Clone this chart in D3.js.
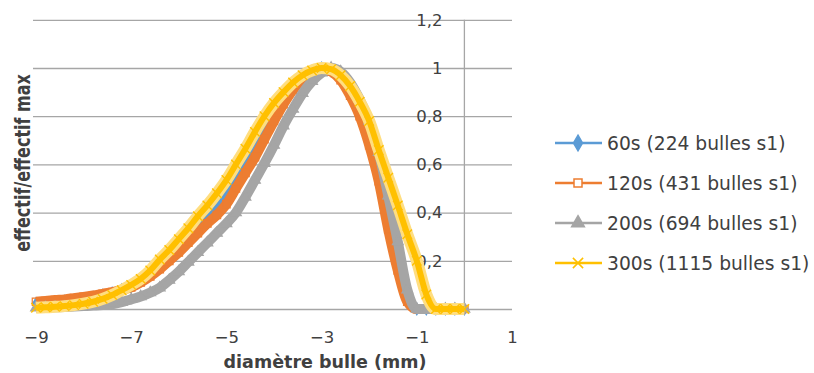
<!DOCTYPE html>
<html>
<head>
<meta charset="utf-8">
<script src="https://cdn.jsdelivr.net/npm/d3@7"></script>
<style>
  body { margin: 0; background: #fff; }
  text { font-family: "DejaVu Sans", sans-serif; fill: #404040; }
</style>
</head>
<body>
<div id="chart"></div>
<script>
// x = diametre (log), one shared set of points for all series
const xs = [-9, -8.8, -8.6, -8.4, -8.2, -8, -7.8, -7.6, -7.4, -7.2, -7, -6.8, -6.6, -6.4, -6.2, -6,
  -5.8, -5.6, -5.4, -5.2, -5, -4.8, -4.6, -4.4, -4.2, -4, -3.8, -3.6, -3.4, -3.2, -3,
  -2.8, -2.6, -2.4, -2.2, -2, -1.8, -1.6, -1.4, -1.2, -1, -0.8, -0.6, -0.4, -0.2, 0];

const s60 = [.022, .025, .029, .032, .036, .042, .048, .057, .066, .079, .093, .115, .143, .177, .214, .252,
  .293, .336, .378, .417, .465, .530, .595, .662, .730, .810, .865, .919, .960, .987, 1.0,
  .988, .956, .897, .818, .690, .550, .350, .180, .050, 0, 0, 0, 0, 0, 0];
const s120 = [.030, .033, .037, .040, .045, .050, .056, .063, .070, .080, .090, .110, .135, .165, .200, .235,
  .275, .315, .355, .390, .435, .500, .565, .630, .705, .780, .850, .910, .955, .985, 1.0,
  .985, .950, .885, .800, .680, .530, .330, .160, .030, 0, 0, 0, 0, 0, 0];
const s200 = [.005, .006, .007, .008, .010, .012, .014, .017, .020, .028, .040, .052, .068, .088, .120, .155,
  .195, .235, .275, .315, .355, .400, .465, .535, .605, .680, .760, .830, .895, .945, .980,
  1.0, .985, .940, .870, .780, .650, .470, .280, .080, 0, 0, 0, 0, 0, 0];
const s300 = [.005, .007, .009, .012, .016, .022, .030, .042, .058, .078, .100, .125, .160, .205, .245, .290,
  .335, .385, .430, .480, .535, .600, .665, .735, .800, .855, .900, .940, .970, .990, 1.0,
  .995, .970, .925, .860, .780, .660, .545, .430, .310, .200, .060, 0, 0, 0, 0];

const seriesNames = ["60s (224 bulles s1)", "120s (431 bulles s1)", "200s (694 bulles s1)", "300s (1115 bulles s1)"];
const seriesValues = [s60, s120, s200, s300];

const xTicks = [-9, -7, -5, -3, -1, 1];
const yTicks = [0, 0.2, 0.4, 0.6, 0.8, 1, 1.2];
const yTickLabels = ["0", "0,2", "0,4", "0,6", "0,8", "1", "1,2"];

const W = 814, H = 373;
const colors = ["#5B9BD5", "#ED7D31", "#A5A5A5", "#FFC000"];
const gridColor = "#a6a6a6";

const svg = d3.select("#chart").append("svg")
  .attr("width", W)
  .attr("height", H);

const x = d3.scaleLinear().domain([-9, 1]).range([36, 512]);
const y = d3.scaleLinear().domain([0, 1.2]).range([309, 19.8]);

// gridlines
svg.append("g")
  .attr("transform", `translate(${x(1)},0)`)
  .call(d3.axisLeft(y).tickValues(yTicks).tickSize(x(1) - x(-9) + 3).tickFormat(""))
  .call(g => g.select(".domain").remove())
  .call(g => g.selectAll("line").attr("stroke", gridColor).attr("stroke-width", 1.3));

// vertical axis at x = 0
svg.append("line")
  .attr("x1", x(0)).attr("x2", x(0))
  .attr("y1", y(1.2)).attr("y2", y(0))
  .attr("stroke", gridColor).attr("stroke-width", 1.3);

// y labels, left of the axis line
svg.append("g")
  .attr("transform", `translate(${x(0)},0)`)
  .call(d3.axisLeft(y).tickValues(yTicks).tickSize(0).tickPadding(22)
    .tickFormat((d, i) => yTickLabels[i]))
  .call(g => g.select(".domain").remove())
  .call(g => g.selectAll("text").style("font-size", "16.5px").attr("fill", "#404040")
    .style("font-family", "DejaVu Sans"));

// x labels
svg.append("g")
  .attr("transform", `translate(0,${y(0)})`)
  .call(d3.axisBottom(x).tickValues(xTicks).tickSize(0).tickPadding(22).tickFormat(d3.format("d")))
  .call(g => g.select(".domain").remove())
  .call(g => g.selectAll("text").style("font-size", "16.5px").attr("fill", "#404040")
    .style("font-family", "DejaVu Sans"));

// axis titles
svg.append("text")
  .attr("x", 325).attr("y", 368)
  .attr("text-anchor", "middle")
  .style("font-size", "17.5px").style("font-weight", "bold")
  .text("diamètre bulle (mm)");

svg.append("text")
  .attr("transform", "translate(30,163) scale(1.3,1) rotate(-90)")
  .attr("text-anchor", "middle")
  .style("font-size", "16px").style("font-weight", "bold")
  .text("effectif/effectif max");

// markers
const symTimes = d3.symbolTimes || d3.symbolX;
const markers = [
  { type: d3.symbolDiamond, size: 40, fill: true },
  { type: d3.symbolSquare, size: 56, fill: false },
  { type: d3.symbolTriangle, size: 50, fill: true },
  { type: symTimes, size: 60, fill: false }
];

const line = d3.line()
  .x((d, i) => x(xs[i]))
  .y(d => y(d))
  .curve(d3.curveMonotoneX);

seriesValues.forEach((vals, k) => {
  const g = svg.append("g");
  // dense markers in the original form a thick band
  if (k === 3) {
    g.append("path")
      .datum(vals)
      .attr("fill", "none")
      .attr("stroke", "#FFDE80")
      .attr("stroke-width", 12)
      .attr("stroke-linejoin", "round")
      .attr("d", line);
  }
  g.append("path")
    .datum(vals)
    .attr("fill", "none")
    .attr("stroke", colors[k])
    .attr("stroke-width", k === 3 ? 6 : 10)
    .attr("stroke-linejoin", "round")
    .attr("d", line);

  const m = markers[k];
  g.selectAll("path.mk")
    .data(vals)
    .enter()
    .append("path")
    .attr("class", "mk")
    .attr("transform", (d, i) => `translate(${x(xs[i])},${y(d)})`)
    .attr("d", d3.symbol().type(m.type).size(m.size))
    .attr("fill", m.fill ? colors[k] : "none")
    .attr("stroke", k === 3 ? "#FFC000" : colors[k])
    .attr("stroke-width", k === 3 ? 1.4 : 1.2);
});

// legend
const legend = svg.append("g");
seriesNames.forEach((name, k) => {
  const ly = 143 + k * 40;
  legend.append("line")
    .attr("x1", 555).attr("x2", 602)
    .attr("y1", ly).attr("y2", ly)
    .attr("stroke", colors[k]).attr("stroke-width", 2.6);
  const m = markers[k];
  legend.append("path")
    .attr("transform", `translate(578,${ly})`)
    .attr("d", d3.symbol().type(m.type).size(k === 1 ? 64 : 70))
    .attr("fill", m.fill ? colors[k] : (k === 1 ? "#fff" : "none"))
    .attr("stroke", colors[k])
    .attr("stroke-width", 1.5);
  legend.append("text")
    .attr("x", 607).attr("y", ly)
    .attr("dy", "0.36em")
    .style("font-size", "18.7px")
    .text(name);
});
</script>
</body>
</html>
